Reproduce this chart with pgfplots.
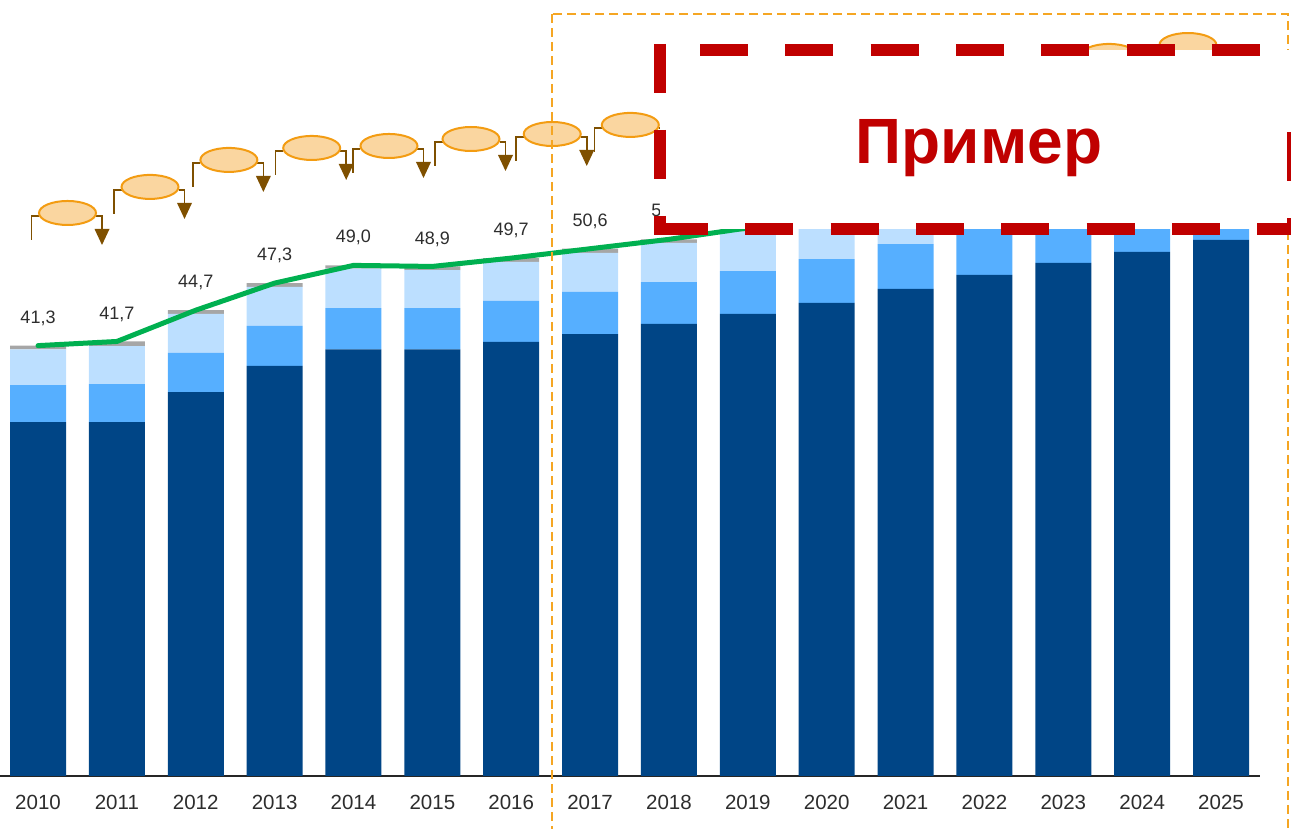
\documentclass[border=0pt]{standalone}
\usepackage{fontspec}
\setmainfont{Liberation Sans}
\usepackage{pgfplots}
\pgfplotsset{compat=1.18}
\usepackage{pgfplotstable}

\definecolor{cdark}{RGB}{0,69,134}
\definecolor{cmed}{RGB}{86,175,255}
\definecolor{clight}{RGB}{188,223,255}
\definecolor{cgray}{RGB}{166,166,166}
\definecolor{cgreen}{RGB}{0,176,80}
\definecolor{ctext}{RGB}{45,45,45}
\definecolor{caxis}{RGB}{38,38,38}
\definecolor{corange}{RGB}{245,166,35}
\definecolor{ellfill}{RGB}{250,214,160}
\definecolor{ellline}{RGB}{243,156,18}
\definecolor{conn}{RGB}{127,80,0}
\definecolor{cred}{RGB}{192,0,0}

% bar segments and totals per year (x = 0 ... 15 for 2010 ... 2025)
\pgfplotstableread{
x dark med light gray total
0 33.95 3.55 3.45 0.35 41.3
1 33.95 3.65 3.65 0.45 41.7
2 36.85 3.75 3.75 0.35 44.7
3 39.35 3.85 3.75 0.35 47.3
4 40.95 3.95 3.80 0.30 49.0
5 40.95 3.95 3.65 0.35 48.9
6 41.65 3.95 3.75 0.35 49.7
7 42.40 4.05 3.75 0.40 50.6
8 43.40 4.00 3.75 0.35 51.5
9 44.35 4.10 3.80 0.35 52.6
10 45.40 4.20 3.80 0.40 53.8
11 46.75 4.30 3.80 0.35 55.2
12 48.10 4.40 3.80 0.40 56.7
13 49.25 4.50 3.80 0.35 57.9
14 50.30 4.60 3.80 0.40 59.1
15 51.45 4.70 3.80 0.35 60.3
}\datatable

% growth bubbles between the bars
\pgfplotstableread{
x y
0.374 54.03
1.42 56.53
2.42 59.12
3.47 60.27
4.45 60.46
5.49 61.13
6.52 61.61
7.51 62.48
8.52 63.6
9.53 64.7
10.54 65.8
11.55 66.9
12.56 68.0
13.58 69.1
14.58 70.15
}\growtable

\pgfdeclareplotmark{growth}{%
  \pgfsetlinewidth{0.8pt}%
  \pgfsetstrokecolor{conn}%
  \pgfpathmoveto{\pgfpoint{-14.25pt}{-1.5pt}}%
  \pgfpathlineto{\pgfpoint{-18pt}{-1.5pt}}%
  \pgfpathlineto{\pgfpoint{-18pt}{-13.5pt}}%
  \pgfusepath{stroke}%
  \pgfpathmoveto{\pgfpoint{14.25pt}{-1.5pt}}%
  \pgfpathlineto{\pgfpoint{17.25pt}{-1.5pt}}%
  \pgfpathlineto{\pgfpoint{17.25pt}{-8.5pt}}%
  \pgfusepath{stroke}%
  \pgfsetfillcolor{conn}%
  \pgfpathmoveto{\pgfpoint{13.5pt}{-8pt}}%
  \pgfpathlineto{\pgfpoint{21pt}{-8pt}}%
  \pgfpathlineto{\pgfpoint{17.25pt}{-16pt}}%
  \pgfpathclose
  \pgfusepath{fill}%
  \pgfsetfillcolor{ellfill}%
  \pgfsetstrokecolor{ellline}%
  \pgfsetlinewidth{1pt}%
  \pgfpathellipse{\pgfpointorigin}{\pgfpoint{14.25pt}{0pt}}{\pgfpoint{0pt}{6pt}}%
  \pgfusepath{fill,stroke}%
}

\begin{document}
\begin{tikzpicture}
\useasboundingbox (0,-26.5pt) rectangle (645.5pt,388pt);
\clip (0,-26.5pt) rectangle (645.5pt,388pt);
\pgfplotsset{base/.style={at={(0,0)}, anchor=south west, scale only axis,
  width=630pt, height=388pt, xmin=-0.482, xmax=15.494, ymin=0, ymax=74.47,
  enlargelimits=false, clip=false}}

\begin{axis}[base, ybar stacked, bar width=0.71,
  axis x line=bottom, axis y line=none,
  axis line style={-, line width=0.9pt, color=caxis},
  xtick={0,...,15},
  xticklabels={2010,2011,2012,2013,2014,2015,2016,2017,2018,2019,2020,2021,2022,2023,2024,2025},
  major tick length=0pt, xticklabel shift=6pt,
  tick label style={font=\fontsize{10.25}{11}\selectfont, text=ctext},
  /pgf/number format/assume math mode=true]
\addplot[fill=cdark, draw=none] table[x=x, y=dark]{\datatable};
\addplot[fill=cmed, draw=none] table[x=x, y=med]{\datatable};
\addplot[fill=clight, draw=none] table[x=x, y=light]{\datatable};
\addplot[fill=cgray, draw=none] table[x=x, y=gray]{\datatable};
\end{axis}

\begin{axis}[base, hide axis]
\addplot[cgreen, line width=2.5pt, line cap=round, line join=round, mark=none]
  table[x=x, y=total]{\datatable};
% total labels, only where they are not covered by the stamp
\addplot[draw=none, mark=none, restrict x to domain=0:8, point meta=y,
  nodes near coords={\pgfmathprintnumber[fixed, fixed zerofill, precision=1, use comma, assume math mode=true]{\pgfplotspointmeta}},
  every node near coord/.append style={anchor=base, yshift=11.2pt,
    font=\fontsize{9}{10}\selectfont, text=ctext}]
  table[x=x, y=total]{\datatable};
\addplot[only marks, mark=growth] table[x=x, y=y]{\growtable};
\end{axis}

% pixel-based overlay: forecast frame and "example" stamp
\begin{scope}[x=0.5pt, y=-0.5pt, yshift=388pt]
\draw[corange, line width=1.25pt, dash pattern=on 4.5pt off 2.5pt] (552,14) rectangle (1288,900);
\fill[white] (660,50) rectangle (1293,229);
\begin{scope}[draw=cred, line width=6pt]
\draw[dash pattern=on 24.5pt off 18.5pt] (660,44) -- (660,235);
\draw[dash pattern=on 24pt off 18.65pt] (660,229) -- (1300,229);
\draw[dash pattern=on 24pt off 18.65pt] (700,50) -- (1300,50);
\draw[dash pattern=on 24.5pt off 18.5pt] (1293,132) -- (1293,235);
\end{scope}
\node[anchor=base, text=cred, inner sep=0pt, font=\fontsize{32}{32}\selectfont\bfseries] at (979,164) {Пример};
\end{scope}
\end{tikzpicture}
\end{document}
